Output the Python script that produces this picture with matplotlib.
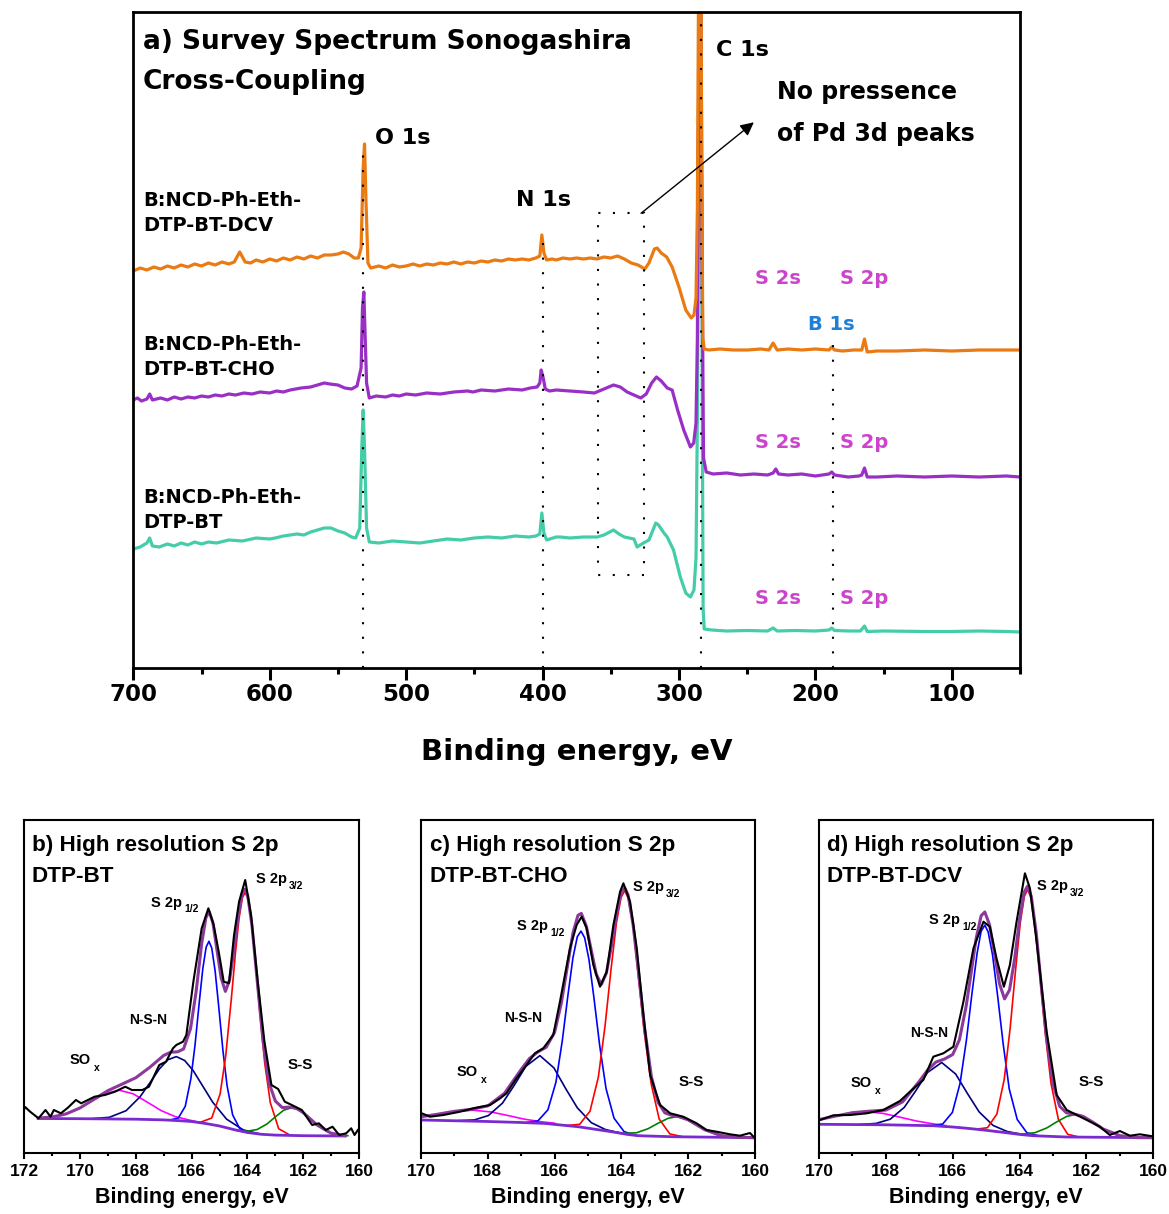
import matplotlib
matplotlib.use("Agg")
import matplotlib.pyplot as plt
from matplotlib.patches import Rectangle
from matplotlib.ticker import MultipleLocator, FixedLocator

# ---------------- survey spectra (binding energy eV, intensity a.u.) ----------------
dcv_be = [700,695,690,685,680,675,670,665,660,655,650,645,640,635,630,626,622,618,614,610,605,600,595,590,585,580,575,570,565,560,555,550,546,542,538,535,533,531.5,530.5,529.5,528,526,520,515,510,505,500,495,490,485,480,475,470,465,460,455,450,445,440,435,430,425,420,415,410,405,402,400.5,399,397,393,390,385,380,375,370,365,360,355,350,345,340,335,330,325,322,318,316,313,309,305,300,295,291,289,287.5,286.5,285.5,284.8,284,283.3,282.5,281.5,278,270,260,250,240,234,231,228,220,210,200,190,188,186,180,172,166,164,162,155,140,120,100,80,60,50]
dcv_int = [397,400,398,401,399,402,400,403,401,404,402,405,403,406,404,406,416,406,405,408,406,409,407,410,408,411,409,412,410,413,413,414,416,414,410,410,420,500,524,470,405,400,402,400,403,401,402,404,402,404,403,405,404,406,404,406,405,407,406,408,407,409,408,409,408,410,412,433,415,408,409,408,410,409,410,409,410,409,411,410,412,409,405,403,399,405,419,420,415,411,401,381,358,350,353,370,460,720,800,760,500,330,319,318,319,318,318,319,318,325,318,319,318,319,318,321,318,317,318,318,329,316,317,317,318,317,318,318,318]

cho_be = [700,697,694,690,688,686,680,675,670,665,660,655,650,645,640,635,630,625,619,613,607,600,595,590,585,577,570,565,560,556,550,545,540,536,533,532,531,530,529,527,522,515,510,505,500,493,485,475,465,455,451,445,435,425,415,409,404,402,401,399.5,398,395,390,380,370,362,355,348,343,338,333,328,324,320,316.5,313,308.6,305,301,296.5,291.6,289.2,287.5,286.5,285.5,284.6,283.8,283,282,280,275,265,255,245,235,231,229,227,220,210,200,190,188,186,176,168,166,164,162,155,140,120,100,80,60,50]
cho_int = [268,270,267,269,274,268,270,268,271,269,271,270,272,271,273,272,274,273,275,274,276,275,277,276,278,280,281,283,285,284,283,280,279,282,300,360,376,330,285,270,272,271,273,272,274,273,275,274,276,277,276,278,277,279,278,280,281,285,298,290,279,277,278,277,276,275,279,283,281,276,273,270,274,285,291,287,280,278,258,238,221,225,245,330,600,760,650,400,210,196,194,195,193,194,193,195,199,194,193,194,192,194,196,193,191,192,193,200,191,191,192,191,192,191,192,191]

bt_be = [700,695,690,688,686,681,675,670,665,660,655,650,645,639,630,620,610,600,596,590,580,575,570,565,560,555,550,545,540,537,534,532.5,531.5,530.5,529,527,520,510,500,490,480,470,460,450,440,430,420,410,405,402,400.5,399,397,390,387,380,370,360,355,348,344,340,333,330.7,326,322,317,315,311,308.6,304,299,295,291.6,289,287.5,286.5,285.5,284.5,283.6,283,282.3,281.5,276,265,250,235,231,228,215,200,190,188,186,175,167,164,162,150,120,100,80,60,50]
bt_int = [119,121,125,130,122,121,124,122,125,123,126,124,126,125,128,127,130,129,130,132,134,133,136,138,140,140,137,135,131,130,140,220,258,220,140,126,125,127,126,125,127,129,128,130,131,130,132,131,132,134,155,135,128,131,131,130,131,131,133,138,134,131,129,121,125,128,145,143,135,131,118,91,75,71,78,110,250,500,700,550,300,60,39,38,37,37.5,37,40,37,37.5,37,38,40,37.5,37,37,42,36.5,37,36.5,36.5,37,36.5,36]

survey_ticks = [700, 600, 500, 400, 300, 200, 100]
sample_names = ["B:NCD-Ph-Eth-\nDTP-BT-DCV", "B:NCD-Ph-Eth-\nDTP-BT-CHO", "B:NCD-Ph-Eth-\nDTP-BT"]
# guide lines: position (eV) and top (a.u.)
guide_pos = [531.3, 399.6, 283.5, 187.0]
guide_top = [523, 435, 656, 323]
pd_box = [325.8, 359.1, 93, 454.7]   # BE right, BE left, bottom, top

# ---------------- high resolution S 2p ----------------
b_raw_be = [172.0,171.97,171.79,171.49,171.24,171.06,170.94,170.69,170.45,170.15,169.96,169.48,169.11,168.75,168.38,168.14,167.77,167.53,167.16,166.92,166.67,166.55,166.31,166.19,165.94,165.64,165.40,165.21,165.03,164.85,164.66,164.48,164.30,164.08,163.87,163.63,163.39,163.14,162.90,162.66,162.41,162.05,161.68,161.44,161.19,160.95,160.71,160.46,160.28,160.16,160.04]
b_raw_int = [44,46,41.3,34.7,43,36.3,43,39.7,45,53,49.7,56.3,58,61.3,66.3,63,63,66.3,88,91.3,104.7,108,111.3,118,171,224.7,244.7,228,201.3,171.3,169.7,218,251.3,273,238,171.3,111.3,68,64,51.3,48,43,28,29.7,23,26.3,18,19.7,24.7,18,23]
b_bg_be = [171.5,170,168,167,166.5,166,165.5,165,164.5,164,163.5,163,162,160.5]
b_bg_int = [34.5,34.3,33.8,33.1,32.4,31.5,29.5,27,23.5,20.5,18.7,17.9,17.3,17]
b_sox_be = [171.5,171.1,170.6,170.1,169.6,169.1,168.6,168.1,167.6,167.1,166.6,166.1,165.7]
b_sox_int = [34.9,35.7,38.2,43.6,51.7,59.6,62.8,59.2,51,42.5,36.5,33,30.6]
b_nsn_be = [169.55,168.95,168.35,167.85,167.45,167.15,166.85,166.55,166.25,165.95,165.65,165.25,164.75,164.15,163.55]
b_nsn_int = [34.4,35.7,42.3,56.2,72.1,84.3,93.3,96.4,92.5,82.6,69.1,51,33.9,23.1,19]
b_p12_be = [166.78,166.48,166.23,166.03,165.88,165.73,165.60,165.48,165.38,165.28,165.16,165.03,164.88,164.73,164.53,164.28,163.98]
b_p12_int = [33,34.9,46.6,73.9,107.7,149.9,184.4,205.9,211.7,205,182.4,146.6,102.8,67.3,38.1,24.6,20.3]
b_p32_be = [165.68,165.28,164.98,164.78,164.58,164.43,164.30,164.18,164.08,163.98,163.86,163.73,163.58,163.38,163.18,162.88,162.48]
b_p32_int = [30.8,35,59,96.8,153.4,200.1,234.7,255.3,260.8,254.4,232.6,196.6,148.3,89.8,50.4,24.3,17.9]
b_ss_be = [164.4,164.0,163.65,163.3,163.0,162.7,162.4,162.1,161.8,161.5,161.15,160.8,160.4]
b_ss_int = [22.7,21.8,23.5,29.0,36.1,42.8,45.4,42.5,35.5,27.9,21.5,18.3,17.3]
b_env_be = [171.5,171,170.5,170,169.5,169,168.5,168,167.5,167,166.75,166.5,166.29,166.04,165.84,165.64,165.49,165.37,165.24,165.09,164.94,164.79,164.64,164.49,164.34,164.19,164.09,163.99,163.84,163.64,163.44,163.24,163,162.75,162.5,162.25,162,161.5,161,160.5]
b_env_int = [34.9,36.0,39.1,45.1,53.7,62.4,68.8,75.3,85.7,97.6,100.8,101.2,104,124.4,161.3,209.5,235.3,241.4,230.5,202.7,174.8,161.6,173.2,201.3,235.1,259.5,263.8,257.2,228.1,169.6,112,71.3,52,45.4,45.9,44.7,40.4,27.9,19.8,17.4]

c_raw_be = [169.98,169.73,169.33,168.83,168.43,167.93,167.63,167.44,167.14,166.84,166.59,166.34,166.04,165.84,165.54,165.34,165.19,165.04,164.84,164.64,164.44,164.24,164.04,163.94,163.74,163.54,163.34,163.14,162.84,162.54,162.15,161.75,161.45,161.15,160.75,160.45,160.15,160.0]
c_raw_int = [39.7,36.3,38,41.3,44.7,48,54.7,59.7,74.7,88,99.7,104.7,118,151.3,204.7,228,236.3,224.7,188,166.3,181.3,228,261.3,269.7,251.3,204.7,138,78,48,39.7,36.3,29.7,23,21.3,18.7,17.3,20,14.7]
c_bg_be = [170,168,167,166.3,165.3,164.8,164.3,163.8,163.5,162.5,160]
c_bg_int = [33,31.5,30.5,29.6,26.3,23.8,21.3,18.5,17.3,16.3,15.3]
c_sox_be = [170.0,169.5,169.0,168.43,167.9,167.4,166.9,166.4,166.0]
c_sox_int = [36.2,38.8,41.6,42.8,41,37.5,33.8,31.2,29.8]
c_nsn_be = [168.89,168.4,167.98,167.56,167.21,166.86,166.44,166.02,165.67,165.32,164.9,164.48,163.99]
c_nsn_int = [32.3,33.1,37.5,49.9,67.6,86.7,97.4,85.1,64.5,45.2,30.3,23.5,19.6]
c_p12_be = [166.84,166.5,166.2,165.96,165.77,165.6,165.45,165.32,165.21,165.1,164.97,164.82,164.65,164.46,164.22,163.92,163.58]
c_p12_int = [30.4,32.1,43.2,70.8,112.2,158,195.4,216.3,221.9,215.2,193.3,154.6,107.4,64.4,34.8,21.4,17.7]
c_p32_be = [165.61,165.25,164.94,164.69,164.49,164.31,164.15,164.01,163.9,163.79,163.65,163.5,163.32,163.11,162.87,162.55,162.19]
c_p32_int = [27.5,28.7,41.8,75.9,127,183.8,229.8,255.6,262.5,254.4,227.3,179.7,121.8,69.5,34,19.1,16.4]
c_ss_be = [164.3,163.9,163.55,163.2,162.9,162.6,162.35,162.1,161.8,161.5,161.15,160.8,160.4]
c_ss_int = [21.4,19.7,20.2,24.3,29.8,34.7,36.3,34.5,29.1,23.2,18.4,16.3,15.6]
c_env_be = [170,169.5,169,168.5,168,167.5,167,166.75,166.5,166.25,166,165.8,165.6,165.45,165.3,165.2,165.05,164.9,164.75,164.6,164.45,164.3,164.15,164.0,163.9,163.8,163.65,163.5,163.3,163.1,162.9,162.7,162.5,162.3,162,161.5,161,160.5,160]
c_env_int = [36.2,38.8,41.7,43.7,47.1,59.7,83.6,94.6,101.1,105.8,120.7,149.8,190,220.1,237.7,239.6,226.8,202.3,178.5,168.6,179.9,206.7,238.3,261.5,265.1,258.1,228.3,184.4,123.4,76,50.5,40.2,37.7,36.6,33.1,23.2,17.3,15.7,15.3]

d_raw_be = [169.97,169.57,169.07,168.57,168.08,167.58,167.28,166.88,166.58,166.28,165.98,165.68,165.38,165.08,164.89,164.69,164.47,164.29,164.09,163.84,163.69,163.49,163.19,162.89,162.59,162.29,161.99,161.6,161.3,161.0,160.7,160.4,159.95]
d_raw_int = [33,37.7,38,39.7,43,52,61.3,73,96.3,99.7,106.3,151.3,204.7,231.3,226.3,194.7,166.3,188,231.3,279.7,264.7,211.3,121.3,58,43,38,33,26.3,18,22,17.3,18.7,16.3]
d_bg_be = [170,168,166.6,166,165.5,165,164.5,164,163.6,162.6,160]
d_bg_int = [28.7,28.2,27.3,26,24.5,22.7,20.7,18.6,17.3,16,15.3]
d_sox_be = [170,169.5,169,168.57,168.1,167.6,167.1,166.6,166.2]
d_sox_int = [33.4,37,40.3,41.3,39.7,36,32.1,29.2,27.3]
d_nsn_be = [168.78,168.29,167.87,167.45,167.1,166.75,166.33,165.91,165.56,165.21,164.79,164.37,163.88]
d_nsn_int = [28.5,29.6,33.8,45.6,62.5,80.6,90.5,78.9,59.5,41.1,27.5,21.5,18.3]
d_p12_be = [166.64,166.3,166.01,165.78,165.59,165.42,165.27,165.15,165.04,164.94,164.81,164.66,164.49,164.31,164.07,163.78,163.44]
d_p12_int = [27.4,29,40.6,69.7,113,160.8,199.9,221.8,227.8,221.1,198.3,158.1,108.9,64.2,33.5,20.2,17.2]
d_p32_be = [165.28,164.96,164.68,164.46,164.28,164.12,163.98,163.86,163.76,163.66,163.54,163.4,163.24,163.06,162.84,162.56,162.24]
d_p32_int = [23.9,25.3,38.9,73.5,125.5,183,229.9,256.3,263.5,255.6,228.4,180.7,122.4,69.6,33.7,18.7,16.1]
d_ss_be = [164.29,163.89,163.54,163.19,162.89,162.59,162.34,162.09,161.79,161.49,161.14,160.79,160.39]
d_ss_int = [19.9,19,20.3,25,31.1,36.6,38.4,36.4,30.4,23.8,18.5,16.2,15.4]
d_env_be = [170,169.5,169,168.5,168,167.5,167,166.75,166.5,166.25,166,165.8,165.6,165.45,165.3,165.15,165.04,164.9,164.75,164.6,164.45,164.3,164.15,164.0,163.86,163.76,163.65,163.5,163.35,163.2,163.0,162.8,162.6,162.35,162.1,161.8,161.5,161,160.5,160]
d_env_int = [33.4,37,40.3,41.8,42.9,51.1,71.7,83,91,93.9,98.5,113.2,146.5,179.9,214.5,237.3,241,228.4,199.5,169.2,154.1,163.1,193.5,233.5,261.1,266.9,256.7,219.7,166.9,117,69.1,46.7,40.2,38.8,36.6,30.7,24,17.4,15.4,15.3]

hr_titles = ["b) High resolution S 2p", "c) High resolution S 2p", "d) High resolution S 2p"]
hr_samples = ["DTP-BT", "DTP-BT-CHO", "DTP-BT-DCV"]
hr_ticks_b = [172, 170, 168, 166, 164, 162, 160]
hr_ticks_cd = [170, 168, 166, 164, 162, 160]

# ---------------- styling ----------------
ORANGE, PURPLE, TEAL = "#EA7A12", "#9A2FC6", "#45CDA9"
MAG_TXT, BLUE_TXT = "#CC44CC", "#1E7FD6"
COMP_COLORS = ["#FF00FF", "#000080", "#0000FF", "#FF0000", "#008000"]
BG_COLOR, ENV_COLOR = "#7A2AD0", "#8B3A9B"
DOT = (0, (1, 6))
W, H = 1169, 1214
BIG = ["DejaVu Sans"]
SMALL = ["Liberation Sans", "DejaVu Sans"]

fig = plt.figure(figsize=(W / 100, H / 100), dpi=100)


def px_axes(l, t, r, b):
    return fig.add_axes([l / W, 1 - b / H, (r - l) / W, (b - t) / H])


def ftext(x, y, s, ha="left", va="center", **kw):
    fig.text(x / W, 1 - y / H, s, ha=ha, va=va, **kw)


# ================= survey panel =================
ax = px_axes(133.3, 12, 1020, 668)
ax.plot(bt_be, bt_int, color=TEAL, lw=2.3, solid_joinstyle="round")
ax.plot(cho_be, cho_int, color=PURPLE, lw=2.3, solid_joinstyle="round")
ax.plot(dcv_be, dcv_int, color=ORANGE, lw=2.3, solid_joinstyle="round")
for xp, top in zip(guide_pos, guide_top):
    ax.plot([xp, xp], [0, top], color="k", lw=1.5, ls=DOT, zorder=5)
ax.add_patch(Rectangle((pd_box[0], pd_box[2]), pd_box[1] - pd_box[0], pd_box[3] - pd_box[2],
                       fill=False, ec="k", lw=1.5, ls=DOT, zorder=5))
ax.annotate("", xy=(245.1, 545.7), xytext=(pd_box[0] + 2, pd_box[3]),
            arrowprops=dict(arrowstyle="-|>", color="k", lw=1.0, mutation_scale=20,
                            shrinkA=0, shrinkB=0))
ax.set_xlim(700, 50)
ax.set_ylim(0, 656)
ax.set_yticks([])
ax.xaxis.set_major_locator(FixedLocator(survey_ticks))
ax.xaxis.set_minor_locator(MultipleLocator(50))
ax.tick_params(axis="x", which="major", direction="out", length=8.5, width=2.2, pad=2.5, labelsize=16.5)
ax.tick_params(axis="x", which="minor", direction="out", length=4.5, width=2.2)
for sp in ax.spines.values():
    sp.set_linewidth(2.0)
for lab in ax.get_xticklabels():
    lab.set_fontweight("bold")
    lab.set_family(BIG)

ftext(143, 42, "a) Survey Spectrum Sonogashira", size=19, weight="bold", family=BIG)
ftext(143, 82, "Cross-Coupling", size=19, weight="bold", family=BIG)
for name, ymid in zip(sample_names, [213, 357, 510]):
    ftext(143, ymid, name, size=14, weight="bold", family=BIG, linespacing=1.45)
ftext(375, 138, "O 1s", size=16, weight="bold", family=BIG)
ftext(516, 200, "N 1s", size=16, weight="bold", family=BIG)
ftext(716, 50, "C 1s", size=16, weight="bold", family=BIG)
ftext(777, 92, "No pressence", size=17, weight="bold", family=BIG)
ftext(777, 134, "of Pd 3d peaks", size=17, weight="bold", family=BIG)
for yy in [278, 442, 599]:
    ftext(755, yy, "S 2s", size=14, weight="bold", family=BIG, color=MAG_TXT)
    ftext(840, yy, "S 2p", size=14, weight="bold", family=BIG, color=MAG_TXT)
ftext(808, 324, "B 1s", size=14, weight="bold", family=BIG, color=BLUE_TXT)
ftext(576.5, 752, "Binding energy, eV", ha="center", size=21, weight="bold", family=BIG)


# ================= high resolution panels =================
def hr_panel(l, r, xmax, ticks, comps, bg, env, raw):
    a = px_axes(l, 820, r, 1153)
    for (xx, yy), c in zip(comps, COMP_COLORS):
        a.plot(xx, yy, color=c, lw=1.2)
    a.plot(bg[0], bg[1], color=BG_COLOR, lw=2.0)
    a.plot(env[0], env[1], color=ENV_COLOR, lw=2.2)
    a.plot(raw[0], raw[1], color="k", lw=1.5)
    a.set_xlim(xmax, 160)
    a.set_ylim(0, 333)
    a.set_yticks([])
    a.xaxis.set_major_locator(FixedLocator(ticks))
    a.xaxis.set_minor_locator(MultipleLocator(1))
    a.tick_params(axis="x", which="major", direction="out", length=4, width=1.5, pad=4, labelsize=12.5)
    a.tick_params(axis="x", which="minor", direction="out", length=2.2, width=1.5)
    for sp in a.spines.values():
        sp.set_linewidth(1.5)
    for lab in a.get_xticklabels():
        lab.set_fontweight("bold")
        lab.set_family(SMALL)
    return a


hr_panel(24.3, 359, 172, hr_ticks_b,
         [(b_sox_be, b_sox_int), (b_nsn_be, b_nsn_int), (b_p12_be, b_p12_int),
          (b_p32_be, b_p32_int), (b_ss_be, b_ss_int)],
         (b_bg_be, b_bg_int), (b_env_be, b_env_int), (b_raw_be, b_raw_int))
hr_panel(421, 755, 170, hr_ticks_cd,
         [(c_sox_be, c_sox_int), (c_nsn_be, c_nsn_int), (c_p12_be, c_p12_int),
          (c_p32_be, c_p32_int), (c_ss_be, c_ss_int)],
         (c_bg_be, c_bg_int), (c_env_be, c_env_int), (c_raw_be, c_raw_int))
hr_panel(819, 1153.3, 170, hr_ticks_cd,
         [(d_sox_be, d_sox_int), (d_nsn_be, d_nsn_int), (d_p12_be, d_p12_int),
          (d_p32_be, d_p32_int), (d_ss_be, d_ss_int)],
         (d_bg_be, d_bg_int), (d_env_be, d_env_int), (d_raw_be, d_raw_int))

for x0, title, sample in zip([31.7, 430, 826.7], hr_titles, hr_samples):
    ftext(x0, 846, title, size=16.2, weight="bold", family=SMALL)
    ftext(x0, 876.5, sample, size=16.2, weight="bold", family=SMALL)
for xc in [191.7, 588, 986]:
    ftext(xc, 1198, "Binding energy, eV", ha="center", size=15.5, weight="bold", family=SMALL)

# peak labels (main text, subscript)
hr_labels = [
    # (x, y, text, size)
    (151, 903, "S 2p", 10.5), (184, 909, "1/2", 7.5),
    (256, 879, "S 2p", 10.5), (289, 886, "3/2", 7.5),
    (129, 1020, "N-S-N", 10), (70, 1060, "SO", 10.5), (94, 1068, "x", 7.5), (288, 1065, "S-S", 11),
    (517, 926, "S 2p", 10.5), (550, 933, "1/2", 7.5),
    (633, 887, "S 2p", 10.5), (666, 894, "3/2", 7.5),
    (504, 1018, "N-S-N", 10), (457, 1071.7, "SO", 10.5), (481, 1079.7, "x", 7.5), (679, 1081.7, "S-S", 11),
    (929, 920, "S 2p", 10.5), (962, 927, "1/2", 7.5),
    (1037, 886, "S 2p", 10.5), (1070, 893, "3/2", 7.5),
    (910, 1033.3, "N-S-N", 10), (851, 1083.3, "SO", 10.5), (875, 1091.3, "x", 7.5), (1079, 1081.7, "S-S", 11),
]
for x0, y0, s, fs in hr_labels:
    ftext(x0, y0, s, size=fs, weight="bold", family=SMALL)

fig.savefig("out.png", dpi=100)
